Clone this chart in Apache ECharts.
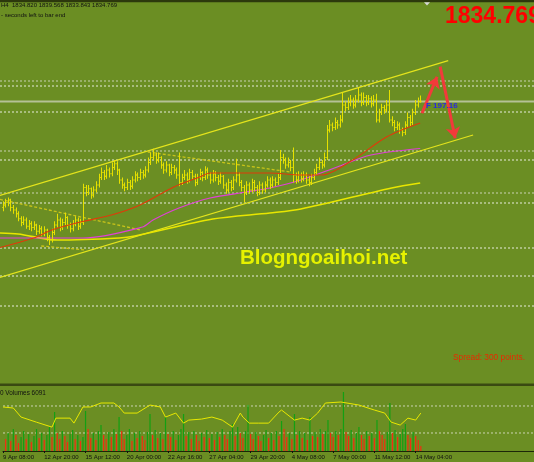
<!DOCTYPE html>
<html><head><meta charset="utf-8">
<script src="https://cdn.jsdelivr.net/npm/echarts@6/dist/echarts.min.js"></script>
<style>html,body{margin:0;padding:0;background:#6b8e23}#c{width:534px;height:462px}</style>
</head><body><div id="c"></div>
<script>
// ---- price bars (H4) ----
const opens = [1750,1752,1754,1756,1750,1748,1745,1741,1738,1740,
 1735,1737,1734,1736,1731,1733,1729,1732,1726,1724,
 1730,1736,1740,1734,1738,1742,1736,1733,1737,1740,
 1735,1738,1766,1762,1765,1760,1764,1768,1774,1778,
 1775,1780,1777,1782,1785,1780,1772,1768,1766,1770,
 1767,1772,1776,1774,1778,1776,1780,1786,1790,1792,
 1788,1790,1784,1780,1784,1778,1782,1780,1776,1770,
 1774,1776,1772,1778,1775,1770,1774,1778,1774,1780,
 1776,1772,1777,1774,1771,1775,1768,1764,1770,1766,
 1772,1776,1770,1766,1762,1768,1764,1770,1766,1762,
 1768,1764,1768,1772,1768,1772,1770,1774,1790,1788,
 1784,1786,1782,1776,1772,1776,1773,1776,1772,1770,
 1774,1778,1782,1786,1784,1790,1812,1816,1814,1818,
 1816,1820,1832,1830,1834,1836,1832,1836,1840,1834,
 1838,1834,1837,1833,1836,1820,1826,1830,1828,1832,
 1820,1818,1814,1816,1812,1810,1816,1822,1818,1826,
 1832,1834.82];
const closes = [1752,1754,1756,1750,1748,1745,1741,1738,1740,1735,
 1737,1734,1736,1731,1733,1729,1732,1726,1724,1730,
 1736,1740,1734,1738,1742,1736,1733,1737,1740,1735,
 1738,1766,1762,1765,1760,1764,1768,1774,1778,1775,
 1780,1777,1782,1785,1780,1772,1768,1766,1770,1767,
 1772,1776,1774,1778,1776,1780,1786,1790,1792,1788,
 1790,1784,1780,1784,1778,1782,1780,1776,1770,1774,
 1776,1772,1778,1775,1770,1774,1778,1774,1780,1776,
 1772,1777,1774,1771,1775,1768,1764,1770,1766,1772,
 1776,1770,1766,1762,1768,1764,1770,1766,1762,1768,
 1764,1768,1772,1768,1772,1770,1774,1790,1788,1784,
 1786,1782,1776,1772,1776,1773,1776,1772,1770,1774,
 1778,1782,1786,1784,1790,1812,1816,1814,1818,1816,
 1820,1832,1830,1834,1836,1832,1836,1840,1834,1838,
 1834,1837,1833,1836,1820,1826,1830,1828,1832,1820,
 1818,1814,1816,1812,1810,1816,1822,1818,1826,1832,
 1834.82,1834.769];
const highs = [1755,1757,1758,1757,1752,1750,1747,1743,1743,1742,
 1740,1739,1739,1737,1736,1735,1735,1733,1728,1733,
 1739,1745,1742,1741,1746,1743,1738,1740,1743,1742,
 1741,1769,1768,1768,1766,1767,1771,1777,1782,1780,
 1784,1782,1786,1788,1787,1781,1774,1770,1773,1772,
 1775,1779,1778,1781,1780,1783,1790,1794,1797,1794,
 1794,1791,1786,1787,1785,1785,1784,1782,1794,1777,
 1780,1778,1781,1780,1777,1777,1781,1779,1783,1782,
 1778,1780,1779,1776,1778,1776,1770,1773,1772,1775,
 1789,1778,1772,1768,1771,1770,1773,1772,1768,1771,
 1770,1771,1775,1774,1775,1774,1777,1796,1793,1790,
 1790,1788,1798,1778,1779,1778,1779,1778,1775,1777,
 1781,1785,1790,1788,1794,1816,1820,1818,1822,1820,
 1824,1842,1835,1838,1840,1838,1840,1846,1842,1842,
 1840,1840,1839,1840,1841,1829,1833,1832,1836,1844,
 1823,1820,1819,1818,1814,1819,1826,1824,1829,1836,
 1838,1839.568];
const lows = [1747,1750,1751,1747,1745,1742,1739,1735,1736,1733,
 1732,1731,1732,1728,1729,1727,1727,1723,1720,1722,
 1728,1734,1731,1732,1736,1733,1730,1731,1735,1732,
 1733,1736,1759,1760,1757,1758,1762,1766,1772,1772,
 1773,1774,1775,1780,1776,1769,1765,1763,1764,1764,
 1765,1770,1771,1772,1773,1774,1778,1784,1788,1785,
 1786,1781,1777,1778,1775,1776,1777,1773,1767,1768,
 1772,1769,1770,1772,1767,1768,1772,1771,1772,1773,
 1769,1770,1771,1768,1769,1765,1761,1762,1763,1764,
 1770,1767,1763,1754,1760,1761,1762,1763,1759,1760,
 1761,1762,1766,1765,1766,1767,1768,1772,1785,1781,
 1782,1779,1770,1769,1770,1770,1771,1769,1767,1768,
 1772,1776,1780,1781,1782,1788,1810,1811,1812,1813,
 1814,1818,1827,1828,1831,1829,1830,1834,1831,1832,
 1831,1832,1830,1831,1818,1818,1824,1825,1826,1818,
 1815,1811,1812,1809,1807,1808,1814,1815,1816,1824,
 1830,1833.843];

// ---- volumes panel ----
const volumes = [12,18,10,22,16,8,14,20,12,17,
 9,15,22,13,18,11,16,24,14,39,
 18,12,20,15,9,17,21,12,16,10,
 14,40,22,13,18,11,20,26,16,12,
 19,14,22,17,34,20,12,16,22,10,
 18,13,20,15,11,19,37,16,21,13,
 18,12,34,17,14,20,11,16,22,37,
 15,19,12,20,16,10,18,14,21,13,
 17,11,19,14,22,16,12,20,27,15,
 24,18,13,20,46,17,12,19,15,10,
 16,21,13,18,11,20,15,30,22,14,
 18,12,37,16,20,13,18,11,34,15,
 19,14,22,17,20,31,18,14,20,16,
 22,59,19,15,21,13,18,24,16,12,
 20,15,18,13,31,20,16,12,19,48,
 18,21,14,17,22,27,16,13,19,15,
 11,5];
const oscIdx = [-1,3,6,12,18,19.5,25,26.5,30,33,37,42,44,46,51,56,60,62,66,69,71,76,80,84,88,91,92,94.5,98,102,106,107,112,115,118,121,124,130,137,143,147,149.5,153,156,159,161];
const oscVal = [68.5,67,53.6,46,38.7,52,52,44.6,68.5,68.5,74.4,74.4,68.5,59.5,59.5,71.4,68.5,53.6,59.5,44.6,49.1,50.6,53.6,49.1,38.7,59.5,53.6,44.6,44.6,44.6,61,64,49.1,52,49.1,59.5,74.4,75.9,71.4,64,59.5,46.1,41.7,52,49.1,59.5];
const oscLevels = [70, 30];

// ---- moving averages ----
const redIdx = [-1,12,19,30,42,53,66,76,80,89,103,115,123,135,148,161];
const redVal = [1718,1725.6,1732,1738.4,1744,1752,1766.4,1774.4,1777.6,1777.6,1777.6,1776,1776,1788,1806.4,1817.6];
const magIdx = [-1,31,54,58,68,80,94,103,115,129,142,161];
const magVal = [1725.6,1725.6,1734.4,1740,1749.6,1757.6,1762.4,1765.6,1772,1782.4,1792,1797.2];
const yelIdx = [-1,6,21,45,51,81,103,115,150,161];
const yelVal = [1729.6,1728.8,1724,1725.6,1727.2,1740.8,1745.6,1748.8,1765.6,1769.6];

// ---- drawn lines ----
const upperChannel = [[-1,1759.7],[171.8,1867.5]];
const lowerChannel = [[-1,1694.1],[181.4,1808]];
const dashA = [[-1,1756.5],[53.3,1732]];
const dashB = [[56,1794.4],[111,1778.4]];
const dashC = [[14.9,1719.2],[32.2,1716]];
const arrowUp = [[161.7,1825.4],[167.5,1854.6]];
const arrowDown = [[168.7,1862.7],[174.5,1805.4]];
const levelsDim = [1851.2,1795.2,1761.6];
const levelsBright = [1847.2,1826.4,1788,1753.6,1717.6,1695.2,1671.2];
const bidPrice = 1834.769;

// ---- axis ticks ----
const tickIdx = [-1,15,31,47,63,79,95,111,127,143,159];
const tickLabels = ['9 Apr 08:00','12 Apr 20:00','15 Apr 12:00','20 Apr 00:00','22 Apr 16:00','27 Apr 04:00','29 Apr 20:00','4 May 08:00','7 May 00:00','11 May 12:00','14 May 04:00'];

const XMIN=-1, XMAX=204.88;
const BAR='#e6e000';
const FONT='Liberation Sans, Arial, sans-serif';

const chart = echarts.init(document.getElementById('c'));
const ohlc = opens.map((o,i)=>[i,o,highs[i],lows[i],closes[i]]);
const knots = (ix,v)=>ix.map((x,k)=>[x,v[k]]);
function lineS(data, color, width, opts){
  return Object.assign({type:'line', data, symbol:'none', silent:true, animation:false,
    lineStyle:{color, width}, xAxisIndex:0, yAxisIndex:0}, opts||{});
}
const series = [];
levelsDim.forEach(p=>series.push(lineS([[XMIN,p],[XMAX,p]],'rgba(235,235,225,0.5)',1.5,{lineStyle:{color:'rgba(235,235,225,0.5)',width:1.5,type:[2,2]},z:1})));
levelsBright.forEach(p=>series.push(lineS([[XMIN,p],[XMAX,p]],'rgba(245,245,240,0.9)',1,{lineStyle:{color:'rgba(245,245,240,0.9)',width:1,type:[2,2]},z:1})));
series.push(lineS([[XMIN,bidPrice],[XMAX,bidPrice]],'rgba(205,210,190,0.75)',2,{z:1}));
series.push(lineS(upperChannel,'#e4e41c',1.1,{z:2}));
series.push(lineS(lowerChannel,'#e4e41c',1.1,{z:2}));
[dashA,dashB,dashC].forEach(d=>series.push(lineS(d,'#c9c41a',1.3,{lineStyle:{color:'#c9c41a',width:1.3,type:[3,2]},z:2})));
series.push(lineS(knots(yelIdx,yelVal),'#e8e600',1.6,{smooth:0.3,z:3}));
series.push(lineS(knots(magIdx,magVal),'#e040d8',1.2,{smooth:0.3,z:3}));
series.push({type:'custom', xAxisIndex:0, yAxisIndex:0, data:ohlc, encode:{x:0,y:[1,2,3,4]}, animation:false, z:4,
  renderItem:(p,api)=>{
    const i=api.value(0);
    const h=api.coord([i,api.value(2)]), l=api.coord([i,api.value(3)]);
    const o=api.coord([i,api.value(1)]), c=api.coord([i,api.value(4)]);
    const x=Math.round(h[0])+0.5;
    const st={stroke:BAR,lineWidth:1};
    return {type:'group',children:[
      {type:'line',shape:{x1:x,y1:h[1],x2:x,y2:l[1]},style:st},
      {type:'line',shape:{x1:x-1.2,y1:o[1],x2:x,y2:o[1]},style:st},
      {type:'line',shape:{x1:x,y1:c[1],x2:x+1.2,y2:c[1]},style:st}]};
  }});
series.push(lineS(knots(redIdx,redVal),'#e03a0a',1.2,{smooth:0.3,z:5,
  markLine:{silent:true, symbol:['none','arrow'], symbolSize:11, label:{show:false}, animation:false,
    lineStyle:{color:'#f23a3a',width:3,type:'solid'},
    data:[[{coord:arrowUp[0]},{coord:arrowUp[1]}],[{coord:arrowDown[0]},{coord:arrowDown[1]}]]}}));
// volume panel
oscLevels.forEach(v=>series.push(lineS([[XMIN,v],[XMAX,v]],'rgba(235,235,225,0.75)',1,{xAxisIndex:1,yAxisIndex:2,lineStyle:{color:'rgba(235,235,225,0.75)',width:1,type:[2,2]},z:1})));
series.push({type:'bar', xAxisIndex:1, yAxisIndex:1, barWidth:1.2, animation:false, silent:true, z:2,
  data: volumes.map((v,i)=>({value:[i,v], itemStyle:{color: (i>0 && v>volumes[i-1]) ? '#12a012' : '#ee3010'}}))});
series.push(lineS(knots(oscIdx,oscVal),'#e8e800',1,{xAxisIndex:1,yAxisIndex:2,z:3}));

const txt = (text,x,y,size,color,extra)=>({type:'text', x, y, z:200, silent:true,
  style:Object.assign({text, fill:color, font:size+'px '+FONT, verticalAlign:'middle'}, extra||{})});

chart.setOption({
  backgroundColor:'#6b8e23',
  animation:false,
  grid:[{left:-1.3, top:0, width:535.3, height:383},{left:-1.3, top:386, width:535.3, height:65}],
  xAxis:[
    {type:'value', gridIndex:0, min:XMIN, max:XMAX, show:false},
    {type:'value', gridIndex:1, min:XMIN, max:XMAX, interval:16,
      axisLine:{show:true, onZero:false, lineStyle:{color:'#1c2608',width:1}},
      axisTick:{show:true, length:2, customValues:tickIdx, lineStyle:{color:'#111'}},
      axisLabel:{show:true, customValues:tickIdx, showMinLabel:true, hideOverlap:false,
        formatter:v=>{const k=tickIdx.indexOf(v);return k<0?'':tickLabels[k];},
        align:'left', fontSize:6, fontFamily:FONT, color:'#111', margin:3},
      splitLine:{show:false}}
  ],
  yAxis:[
    {type:'value', gridIndex:0, min:1609.6, max:1916, show:false},
    {type:'value', gridIndex:1, min:0, max:65, show:false},
    {type:'value', gridIndex:1, min:3.33, max:99.6, show:false}
  ],
  series,
  graphic:[
    {type:'rect', z:150, silent:true, shape:{x:0,y:0,width:534,height:2.3}, style:{fill:'#2c380c'}},
    {type:'rect', z:150, silent:true, shape:{x:0,y:383.5,width:534,height:2.5}, style:{fill:'#3a4a12'}},
    {type:'polygon', z:150, silent:true, shape:{points:[[424,2.3],[430,2.3],[427,5.5]]}, style:{fill:'#d8d8d8'}},
    txt('H4  1834.820 1839.568 1833.843 1834.769',1,5.5,6,'#111'),
    txt('- seconds left to bar end',1,15,6,'#111'),
    txt('1834.769',445,17,23,'#ff0000',{font:'bold 23px '+FONT}),
    txt('F 197.16',426,106,8,'#2a2ae0',{font:'bold 8px '+FONT}),
    txt('Blogngoaihoi.net',240,258,20.5,'#e6f200',{font:'bold 20.5px '+FONT, shadowColor:'rgba(40,50,10,0.7)', shadowBlur:2, shadowOffsetX:2, shadowOffsetY:2}),
    txt('Spread: 300 points.',453,358,8.3,'#e82a00'),
    txt('0 Volumes 6091',0,393,6.4,'#111')
  ]
});
</script></body></html>
